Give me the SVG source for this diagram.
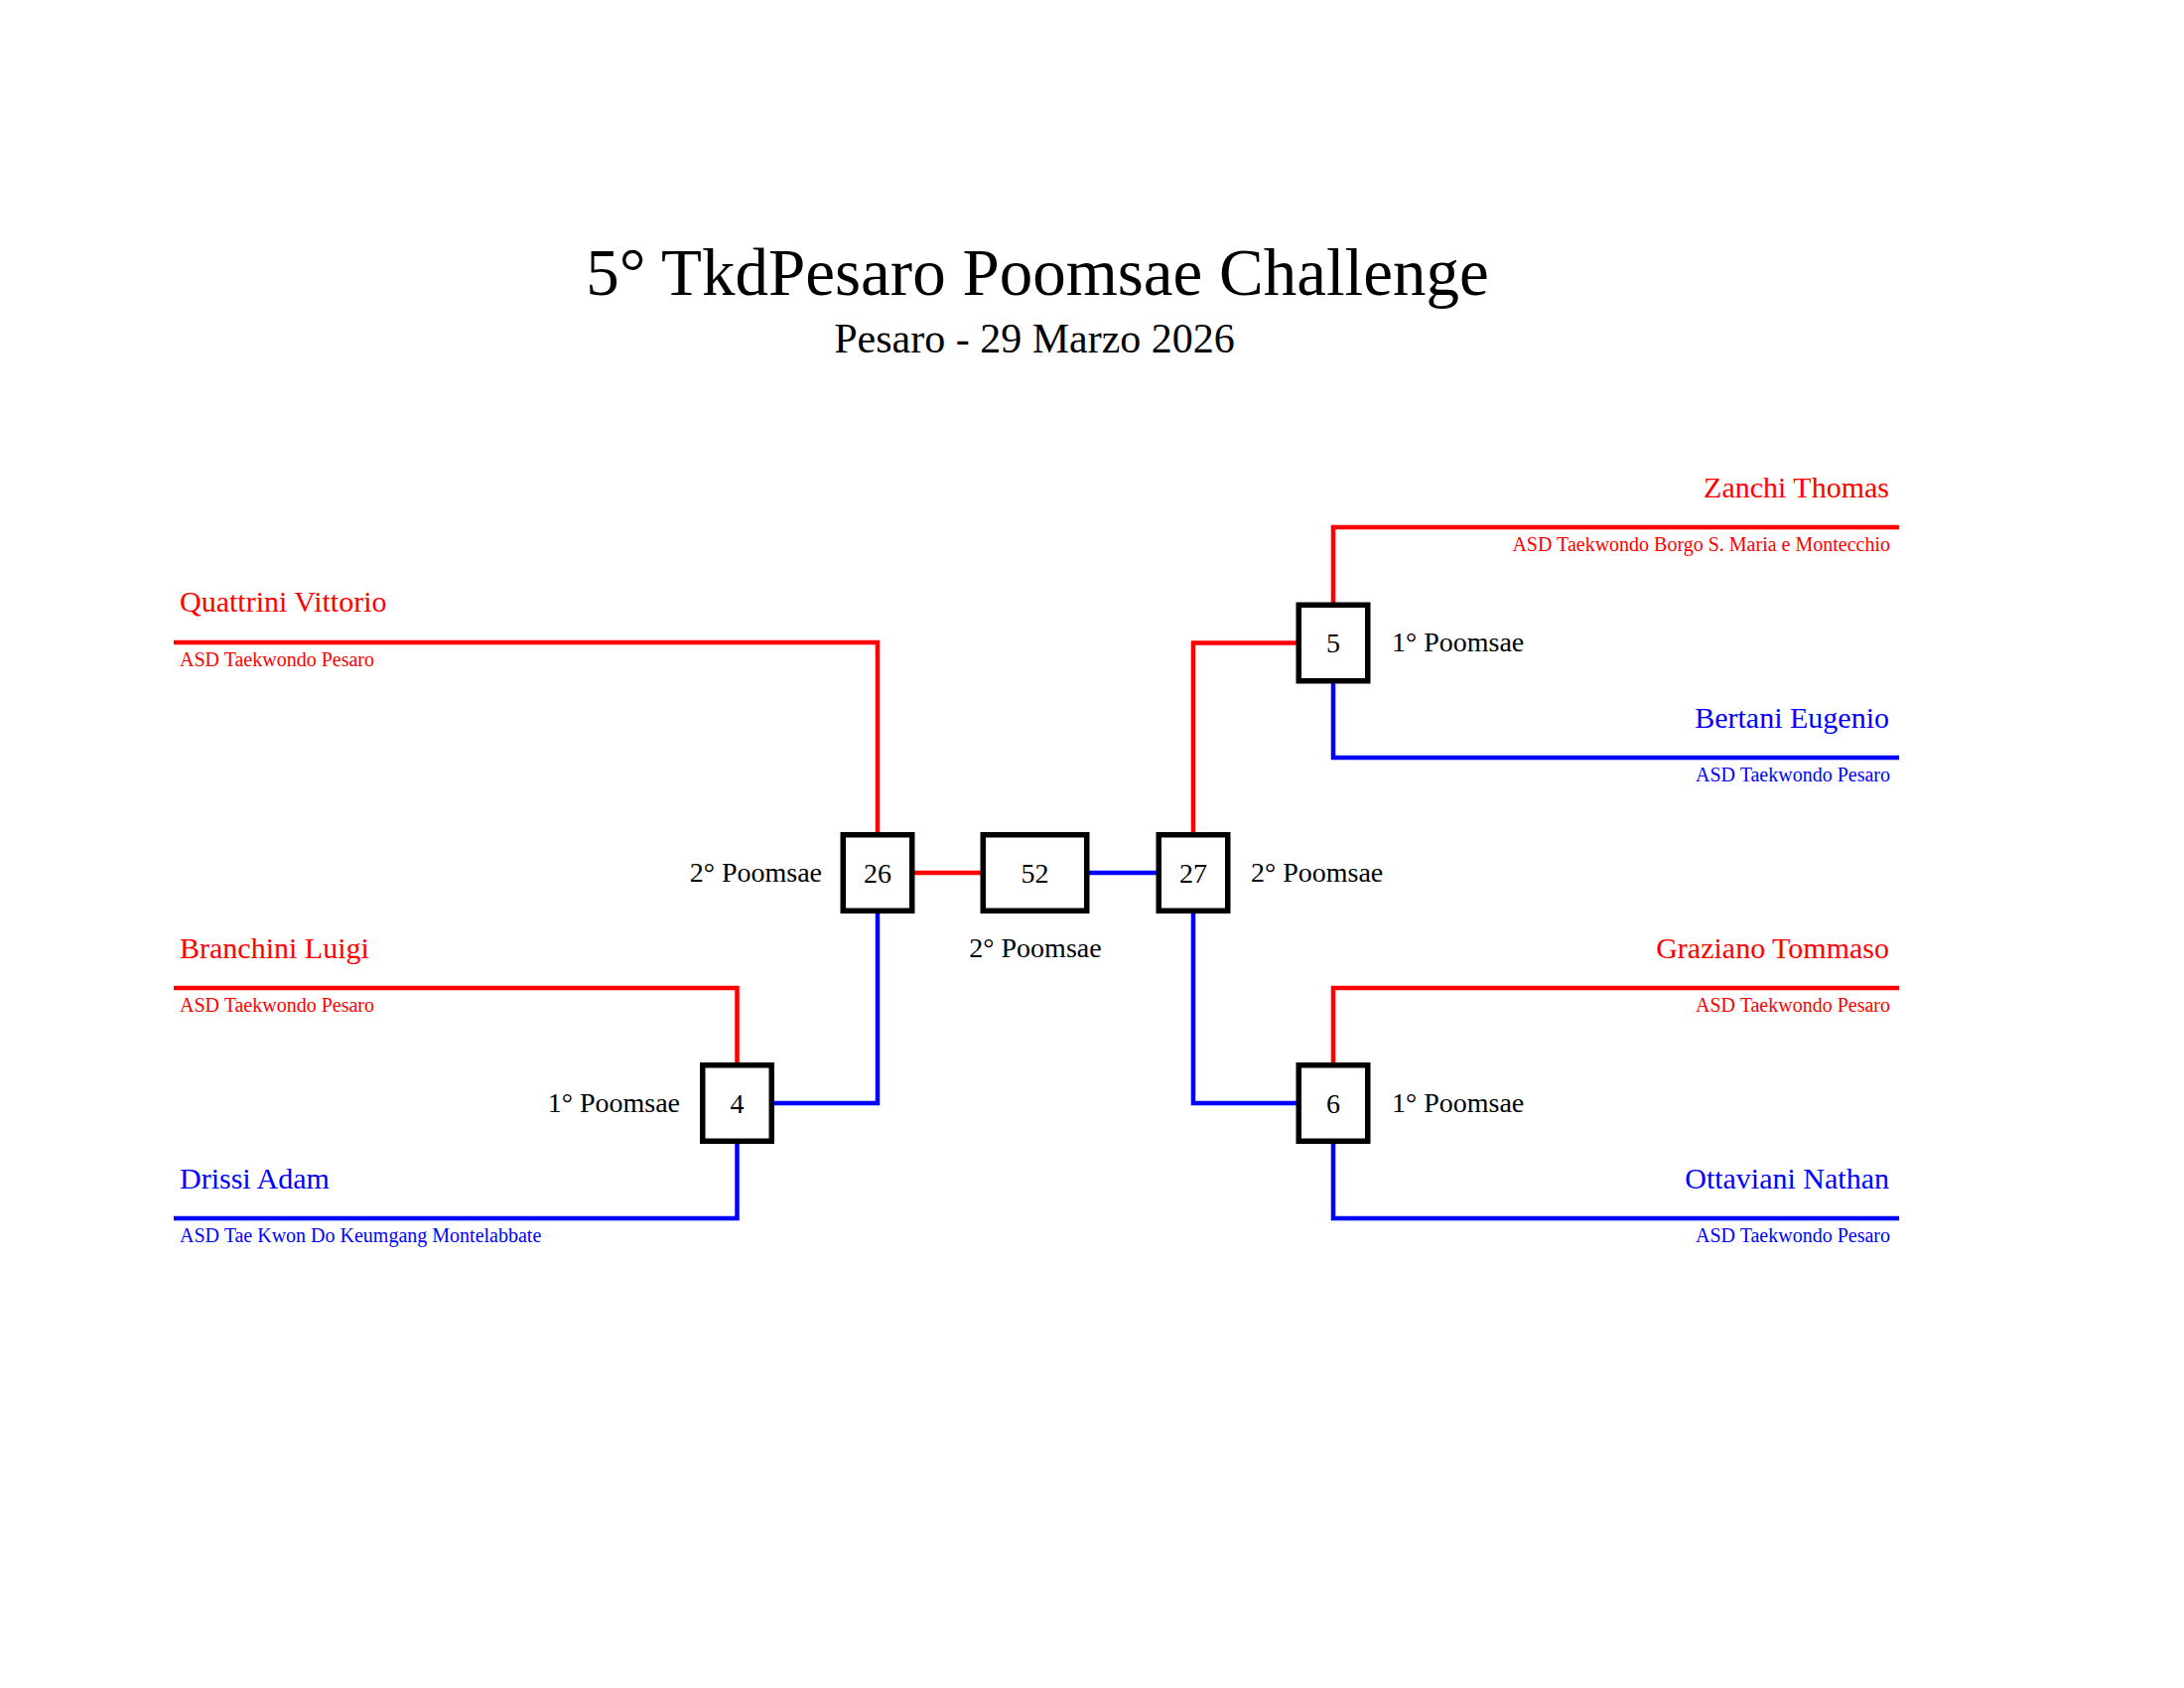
<svg xmlns="http://www.w3.org/2000/svg" width="2200" height="1700" viewBox="0 0 2200 1700">
<style>
text{font-family:"Liberation Serif","Times New Roman",serif}
.title{font-size:67px;fill:#000;text-anchor:middle}
.sub{font-size:42px;fill:#000;text-anchor:middle}
.name{font-size:30px}
.club{font-size:20px}
.lbl{font-size:28px;fill:#000}
.num{font-size:28px;fill:#000;text-anchor:middle}
.r{fill:#ff0000}
.b{fill:#0000ff}
.end{text-anchor:end}
.box{fill:#fff;stroke:#000;stroke-width:5.5}
.cr{fill:none;stroke:#ff0000;stroke-width:4.5;stroke-linejoin:miter}
.cb{fill:none;stroke:#0000ff;stroke-width:4.5;stroke-linejoin:miter}
</style>
<rect width="2200" height="1700" fill="#fff"/>
<g id="header">
<text class="title" x="1045" y="297">5° TkdPesaro Poomsae Challenge</text>
<text class="sub" x="1042" y="355">Pesaro - 29 Marzo 2026</text>
</g>
<g id="connectors">
<path class="cr" d="M175 647 H884 V879"/>
<path class="cr" d="M175 995 H742.5 V1111"/>
<path class="cb" d="M175 1227 H742.5 V1111"/>
<path class="cb" d="M742.5 1111 H884 V879"/>
<path class="cr" d="M884 879 H1042.5"/>
<path class="cb" d="M1042.5 879 H1202"/>
<path class="cr" d="M1913 531 H1343 V647.5"/>
<path class="cb" d="M1913 763 H1343 V647.5"/>
<path class="cr" d="M1343 647.5 H1202 V879"/>
<path class="cb" d="M1343 1111 H1202 V879"/>
<path class="cr" d="M1913 995 H1343 V1111"/>
<path class="cb" d="M1913 1227 H1343 V1111"/>
</g>
<g id="competitors">
<g id="quattrini"><text class="name r" x="181" y="616">Quattrini Vittorio</text><text class="club r" x="181" y="671">ASD Taekwondo Pesaro</text></g>
<g id="branchini"><text class="name r" x="181" y="965">Branchini Luigi</text><text class="club r" x="181" y="1019">ASD Taekwondo Pesaro</text></g>
<g id="drissi"><text class="name b" x="181" y="1197">Drissi Adam</text><text class="club b" x="181" y="1251">ASD Tae Kwon Do Keumgang Montelabbate</text></g>
<g id="zanchi"><text class="name r end" x="1903" y="501">Zanchi Thomas</text><text class="club r end" x="1904" y="555">ASD Taekwondo Borgo S. Maria e Montecchio</text></g>
<g id="bertani"><text class="name b end" x="1903" y="733">Bertani Eugenio</text><text class="club b end" x="1904" y="787">ASD Taekwondo Pesaro</text></g>
<g id="graziano"><text class="name r end" x="1903" y="965">Graziano Tommaso</text><text class="club r end" x="1904" y="1019">ASD Taekwondo Pesaro</text></g>
<g id="ottaviani"><text class="name b end" x="1903" y="1197">Ottaviani Nathan</text><text class="club b end" x="1904" y="1251">ASD Taekwondo Pesaro</text></g>
</g>
<g id="match4"><rect class="box" x="707.75" y="1072.75" width="69.5" height="76.5"/><text class="num" x="742.5" y="1121">4</text><text class="lbl end" x="685" y="1120">1° Poomsae</text></g>
<g id="match26"><rect class="box" x="849.25" y="840.75" width="69.5" height="76.5"/><text class="num" x="884" y="889">26</text><text class="lbl end" x="828" y="888">2° Poomsae</text></g>
<g id="match52"><rect class="box" x="990.25" y="840.75" width="104.5" height="76.5"/><text class="num" x="1042.5" y="889">52</text><text class="lbl" x="1043" y="964" text-anchor="middle">2° Poomsae</text></g>
<g id="match27"><rect class="box" x="1167.25" y="840.75" width="69.5" height="76.5"/><text class="num" x="1202" y="889">27</text><text class="lbl" x="1260" y="888">2° Poomsae</text></g>
<g id="match5"><rect class="box" x="1308.25" y="609.25" width="69.5" height="76.5"/><text class="num" x="1343" y="657">5</text><text class="lbl" x="1402" y="656">1° Poomsae</text></g>
<g id="match6"><rect class="box" x="1308.25" y="1072.75" width="69.5" height="76.5"/><text class="num" x="1343" y="1121">6</text><text class="lbl" x="1402" y="1120">1° Poomsae</text></g>
</svg>
